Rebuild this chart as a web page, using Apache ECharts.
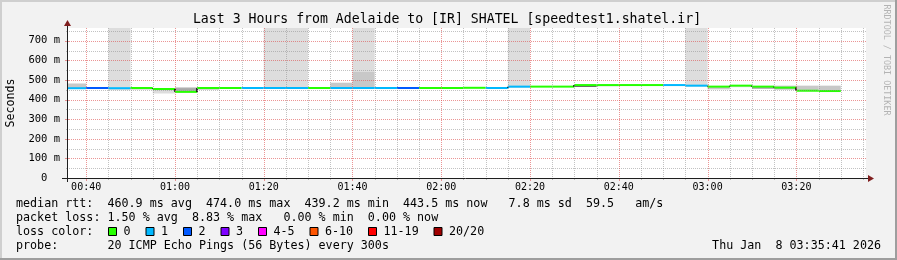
<!DOCTYPE html>
<html><head><meta charset="utf-8">
<script src="https://cdn.jsdelivr.net/npm/echarts@6/dist/echarts.min.js"></script>
<style>html,body{margin:0;padding:0;background:#f2f2f2;overflow:hidden}#c{width:897px;height:260px}</style>
</head><body><div id="c"></div>
<script>
// ---- data ----
const binTimes = ['00:35','00:40','00:45','00:50','00:55','01:00','01:05','01:10','01:15','01:20','01:25','01:30',
  '01:35','01:40','01:45','01:50','01:55','02:00','02:05','02:10','02:15','02:20','02:25','02:30',
  '02:35','02:40','02:45','02:50','02:55','03:00','03:05','03:10','03:15','03:20','03:25'];
const medianMs = [458,459,458,459,454,439.2,459,459,459,459,459,459,
  459,459,459,459,459,459,460,459,466,466,466,474,
  474,474,474,474,471,466,471,466,461,445,443.5];
const lossLevel = [1,2,1,0,0,0,0,0,1,1,1,0,
  1,1,1,2,0,0,0,1,1,0,0,0,
  0,0,0,1,1,0,0,0,0,0,0];
// smoke bands [low, high] in ms per bin (null = none)
const smokePale = [null,null,[448,800],null,[431,446],null,null,null,null,[455,800],[455,800],null,
  null,[542,800],null,null,null,null,null,null,[459,800],null,null,null,
  null,[470,474],null,null,[466,800],null,[463,471],null,null,null,null];
const smokeMid = [[456,482],[455,462],null,[451,459],[446,455],[439,463],[450,459],null,null,null,null,null,
  [459,486],[459,542],null,null,null,null,null,null,null,null,null,null,
  [468,474],null,null,null,null,[452,466],null,[454,466],[450,471],[445,471],[443,471]];
const smokeDark = [null,null,null,null,null,[445,458],null,null,null,null,null,null,
  null,null,null,null,null,null,null,null,null,null,null,null,
  null,null,null,null,null,null,null,[456,466],[455,461],null,null];
const smokeCore = [null,null,null,null,null,null,null,null,null,null,null,null,
  null,null,null,null,null,null,null,null,null,null,null,[465,471],
  null,null,null,null,null,null,null,null,null,null,null];
const xTickLabels = ['00:40','01:00','01:20','01:40','02:00','02:20','02:40','03:00','03:20'];
const yTickValues = [0,100,200,300,400,500,600,700];
const lossLabels = ['0','1','2','3','4-5','6-10','11-19','20/20'];
const lossColors = ['#26ff00','#00b8ff','#0059ff','#7e00ff','#ff00ff','#ff5500','#ff0000','#a00000'];
const titleText = 'Last 3 Hours from Adelaide to [IR] SHATEL [speedtest1.shatel.ir]';
const statsMedian = 'median rtt:  460.9 ms avg  474.0 ms max  439.2 ms min  443.5 ms now   7.8 ms sd  59.5   am/s';
const statsLoss = 'packet loss: 1.50 % avg  8.83 % max   0.00 % min  0.00 % now';
const lossHeader = 'loss color:';
const probeText = 'probe:       20 ICMP Echo Pings (56 Bytes) every 300s';
const dateText = 'Thu Jan  8 03:35:41 2026';
const yAxisName = 'Seconds';
const watermark = 'RRDTOOL / TOBI OETIKER';

// ---- helpers ----
function toMin(t){const p=t.split(':');return (+p[0])*60+(+p[1]);}
const BIN = 5;
const X0 = 35 + 41/60, X1 = X0 + 180;
const Y_MAX = 765;
const MONO = '"DejaVu Sans Mono", monospace';
const FOOT = '11.7px ' + MONO;
const smokeColors = ['#dddddd','#c8c8c8','#a8a8a8','#4a4a4a'];
const GRID_MINOR = 'rgba(143,143,143,0.55)';
const GRID_MAJOR = 'rgba(222,79,79,0.6)';

const smokeData = [];
[smokePale, smokeMid, smokeDark, smokeCore].forEach((arr, lvl) => arr.forEach((b, i) => {
  if (b) { const s = toMin(binTimes[i]); smokeData.push([s, s + BIN, b[0], b[1], lvl]); }
}));
const medianData = binTimes.map((t, i) => [toMin(t), toMin(t) + BIN, medianMs[i], i > 0 ? medianMs[i-1] : medianMs[i], lossLevel[i]]);

const xMinor = [], xMajor = [];
for (let m = Math.ceil(X0 / 5) * 5; m <= X1; m += 5) { (m % 20 === 0 ? xMajor : xMinor).push(m); }
const yMinor = yTickValues.map(v => v + 50).filter(v => v < Y_MAX);

function px(v){return Math.round(v) + 0.5;}
function txt(text, x, y, font, align, extra){
  return Object.assign({type:'text', x:x, y:y, style:{text:text, font:font, fill:'#000', align:align, verticalAlign:'middle', textAlign:align, textVerticalAlign:'middle'}}, extra || {});
}

const chart = echarts.init(document.getElementById('c'), null, {renderer:'canvas'});

const graphics = [
  {type:'rect', shape:{x:0,y:0,width:897,height:2}, style:{fill:'#cfcfcf'}, silent:true},
  {type:'rect', shape:{x:0,y:0,width:2,height:260}, style:{fill:'#cfcfcf'}, silent:true},
  {type:'rect', shape:{x:0,y:258,width:897,height:2}, style:{fill:'#9e9e9e'}, silent:true},
  {type:'rect', shape:{x:895,y:0,width:2,height:260}, style:{fill:'#9e9e9e'}, silent:true},
  txt(titleText, 447, 19.5, '13.2px ' + MONO, 'center'),
  txt(yAxisName, 11, 103, '11.6px ' + MONO, 'center', {rotation: Math.PI/2}),
  txt(statsMedian, 16, 204, FOOT, 'left'),
  txt(statsLoss, 16, 218.3, FOOT, 'left'),
  txt(lossHeader, 16, 232, FOOT, 'left'),
  txt(probeText, 16, 246, FOOT, 'left'),
  txt(dateText, 881, 246, FOOT, 'right')
];
const wm = txt(watermark, 886, 60, '8.4px ' + MONO, 'center', {rotation: -Math.PI/2});
wm.style.fill = '#b4b4b4';
graphics.push(wm);
let bx = 108;
lossLabels.forEach((lab, i) => {
  graphics.push({type:'rect', shape:{x:bx+0.5, y:227.5, width:8, height:8}, style:{fill:lossColors[i], stroke:'#000', lineWidth:1}});
  graphics.push(txt(lab, bx + 15.5, 232, FOOT, 'left'));
  bx = bx + 15.5 + lab.length * 7 + 15;
});

const option = {
  animation: false,
  backgroundColor: '#f2f2f2',
  grid: {left:67, top:28, width:799, height:150, show:true, backgroundColor:'#ffffff', borderWidth:0},
  xAxis: {type:'value', min:X0, max:X1, show:false},
  yAxis: {type:'value', min:0, max:Y_MAX, interval:100,
    axisLine:{show:false}, axisTick:{show:false}, splitLine:{show:false},
    axisLabel:{margin:7, color:'#000', fontFamily:MONO, fontSize:10.5,
      formatter: v => (v > 700 ? '' : (v === 0 ? '0  ' : v + ' m'))}},
  graphic: graphics,
  series: [
    {type:'custom', name:'smoke', z:1, clip:false, encode:{x:[0,1], y:[2,3]}, data:smokeData,
      renderItem(params, api){
        const cs = params.coordSys;
        const p1 = api.coord([api.value(0), api.value(3)]);
        const p2 = api.coord([api.value(1), api.value(2)]);
        const r = echarts.graphic.clipRectByRect(
          {x:p1[0], y:p1[1], width:p2[0]-p1[0], height:p2[1]-p1[1]},
          {x:cs.x, y:cs.y, width:cs.width, height:cs.height});
        if (!r) return null;
        return {type:'rect', shape:r, style:{fill:smokeColors[api.value(4)]}};
      }},
    {type:'custom', name:'median', z:2, clip:false, encode:{x:[0,1], y:[2,3]}, data:medianData,
      renderItem(params, api){
        const cs = params.coordSys;
        const s = api.coord([api.value(0), api.value(2)]);
        const e = api.coord([api.value(1), api.value(2)]);
        const pv = api.coord([api.value(0), api.value(3)]);
        const x1 = Math.max(s[0], cs.x), x2 = Math.min(e[0], cs.x + cs.width);
        const children = [];
        if (s[0] >= cs.x && Math.abs(pv[1] - s[1]) > 0.6) {
          children.push({type:'line', shape:{x1:Math.round(s[0]), y1:pv[1], x2:Math.round(s[0]), y2:s[1]}, style:{stroke:'#000', lineWidth:1.5}});
        }
        children.push({type:'line', shape:{x1:x1, y1:s[1], x2:x2, y2:s[1]}, style:{stroke:lossColors[api.value(4)], lineWidth:2}});
        return {type:'group', children};
      }},
    {type:'custom', name:'frame', z:5, clip:false, encode:{x:0, y:1}, data:[[X0, 0]],
      renderItem(params, api){
        const cs = params.coordSys;
        const left = cs.x, top = cs.y, right = cs.x + cs.width, bottom = cs.y + cs.height;
        const ch = [];
        const dash = [1,1];
        xMinor.forEach(m => {
          const x = px(api.coord([m, 0])[0]);
          ch.push({type:'line', shape:{x1:x, y1:top, x2:x, y2:bottom}, style:{stroke:GRID_MINOR, lineWidth:1, lineDash:dash}});
          ch.push({type:'line', shape:{x1:x, y1:bottom, x2:x, y2:bottom+2}, style:{stroke:GRID_MINOR, lineWidth:1}});
        });
        yMinor.forEach(v => {
          const y = px(api.coord([X0, v])[1]);
          ch.push({type:'line', shape:{x1:left, y1:y, x2:right, y2:y}, style:{stroke:GRID_MINOR, lineWidth:1, lineDash:dash}});
          ch.push({type:'line', shape:{x1:left-1, y1:y, x2:left+1, y2:y}, style:{stroke:GRID_MINOR, lineWidth:1}});
        });
        xMajor.forEach(m => {
          const x = px(api.coord([m, 0])[0]);
          ch.push({type:'line', shape:{x1:x, y1:top, x2:x, y2:bottom}, style:{stroke:GRID_MAJOR, lineWidth:1, lineDash:dash}});
          ch.push({type:'line', shape:{x1:x, y1:bottom, x2:x, y2:bottom+3}, style:{stroke:GRID_MAJOR, lineWidth:1}});
        });
        yTickValues.forEach(v => {
          if (v === 0) return;
          const y = px(api.coord([X0, v])[1]);
          ch.push({type:'line', shape:{x1:left, y1:y, x2:right, y2:y}, style:{stroke:GRID_MAJOR, lineWidth:1, lineDash:dash}});
          ch.push({type:'line', shape:{x1:left-2, y1:y, x2:left+2, y2:y}, style:{stroke:GRID_MAJOR, lineWidth:1}});
        });
        xTickLabels.forEach(lab => {
          const x = api.coord([toMin(lab), 0])[0];
          ch.push({type:'text', x:x, y:bottom+9.6, style:{text:lab, font:'10px '+MONO, fill:'#000', align:'center', verticalAlign:'middle', textAlign:'center', textVerticalAlign:'middle'}});
        });
        const ax = px(left), ay = px(api.coord([X0, 0])[1]);
        ch.push({type:'line', shape:{x1:left-5, y1:ay, x2:right+3, y2:ay}, style:{stroke:'#1f1f1f', lineWidth:1}});
        ch.push({type:'line', shape:{x1:ax, y1:bottom+4, x2:ax, y2:top-4}, style:{stroke:'#1f1f1f', lineWidth:1}});
        ch.push({type:'polygon', shape:{points:[[right+2, ay-3.5],[right+8, ay],[right+2, ay+3.5]]}, style:{fill:'#801f1f'}});
        ch.push({type:'polygon', shape:{points:[[ax-3.5, top-2],[ax, top-8],[ax+3.5, top-2]]}, style:{fill:'#801f1f'}});
        return {type:'group', children:ch};
      }}
  ]
};
chart.setOption(option);
</script>
</body></html>
